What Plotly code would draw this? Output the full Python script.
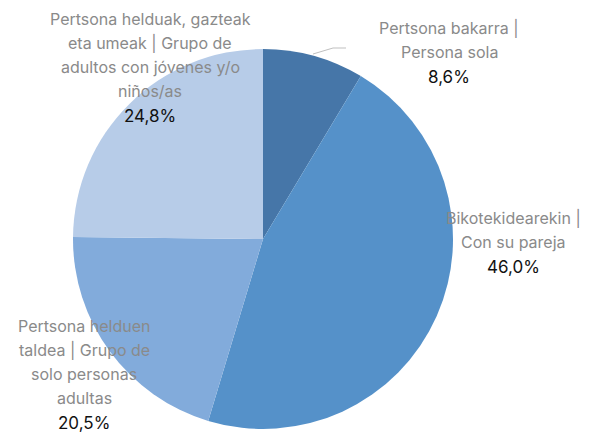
import plotly.graph_objects as go

categories = [
    "Pertsona bakarra | Persona sola",
    "Bikotekidearekin | Con su pareja",
    "Pertsona helduen taldea | Grupo de solo personas adultas",
    "Pertsona helduak, gazteak eta umeak | Grupo de adultos con jóvenes y/o niños/as",
]
values = [8.6, 46.0, 20.5, 24.8]
label_lines = [
    ["Pertsona bakarra |", "Persona sola"],
    ["Bikotekidearekin |", "Con su pareja"],
    ["Pertsona helduen", "taldea | Grupo de", "solo personas", "adultas"],
    ["Pertsona helduak, gazteak", "eta umeak | Grupo de", "adultos con jóvenes y/o", "niños/as"],
]
colors = ["#4676a8", "#5591c9", "#82abdb", "#b7cce8"]

W, H = 590, 435
cx, cy, r = 263, 239, 190

fig = go.Figure(go.Pie(
    labels=categories, values=values, sort=False, direction="clockwise",
    rotation=0, marker=dict(colors=colors, line=dict(width=0)),
    textinfo="none", hoverinfo="label+percent", showlegend=False,
    domain=dict(x=[(cx - r) / W, (cx + r) / W], y=[(H - cy - r) / H, (H - cy + r) / H]),
))

# label anchor: (center x px, first line y px)
anchors = [(449, 28), (513, 218), (84, 326), (150, 19)]
spacing = 24.0
font = "Inter, Lato, sans-serif"
ann = []
for lines, v, (ax, ay) in zip(label_lines, values, anchors):
    for i, t in enumerate(lines):
        ann.append(dict(x=ax / W, y=1 - (ay + i * spacing) / H, xref="paper", yref="paper",
                        text=t, showarrow=False, xanchor="center", yanchor="middle",
                        font=dict(family=font, size=16, color="#8a8a8a")))
    ann.append(dict(x=ax / W, y=1 - (ay + len(lines) * spacing + 1) / H, xref="paper", yref="paper",
                    text=f"{v:.1f}".replace(".", ",") + "%", showarrow=False,
                    xanchor="center", yanchor="middle",
                    font=dict(family=font, size=17, color="#111111")))

fig.update_layout(
    width=W, height=H, margin=dict(l=0, r=0, t=0, b=0),
    paper_bgcolor="white", plot_bgcolor="white",
    annotations=ann,
    shapes=[dict(type="path", xref="paper", yref="paper",
                 path=f"M {313/W},{1-54/H} L {333/W},{1-48/H} L {346/W},{1-48/H}",
                 line=dict(color="#bfbfbf", width=1))],
)
fig.write_html("out.html", config={"displayModeBar": False},
               post_script="document.body.style.margin='0';document.body.style.overflow='hidden';")
